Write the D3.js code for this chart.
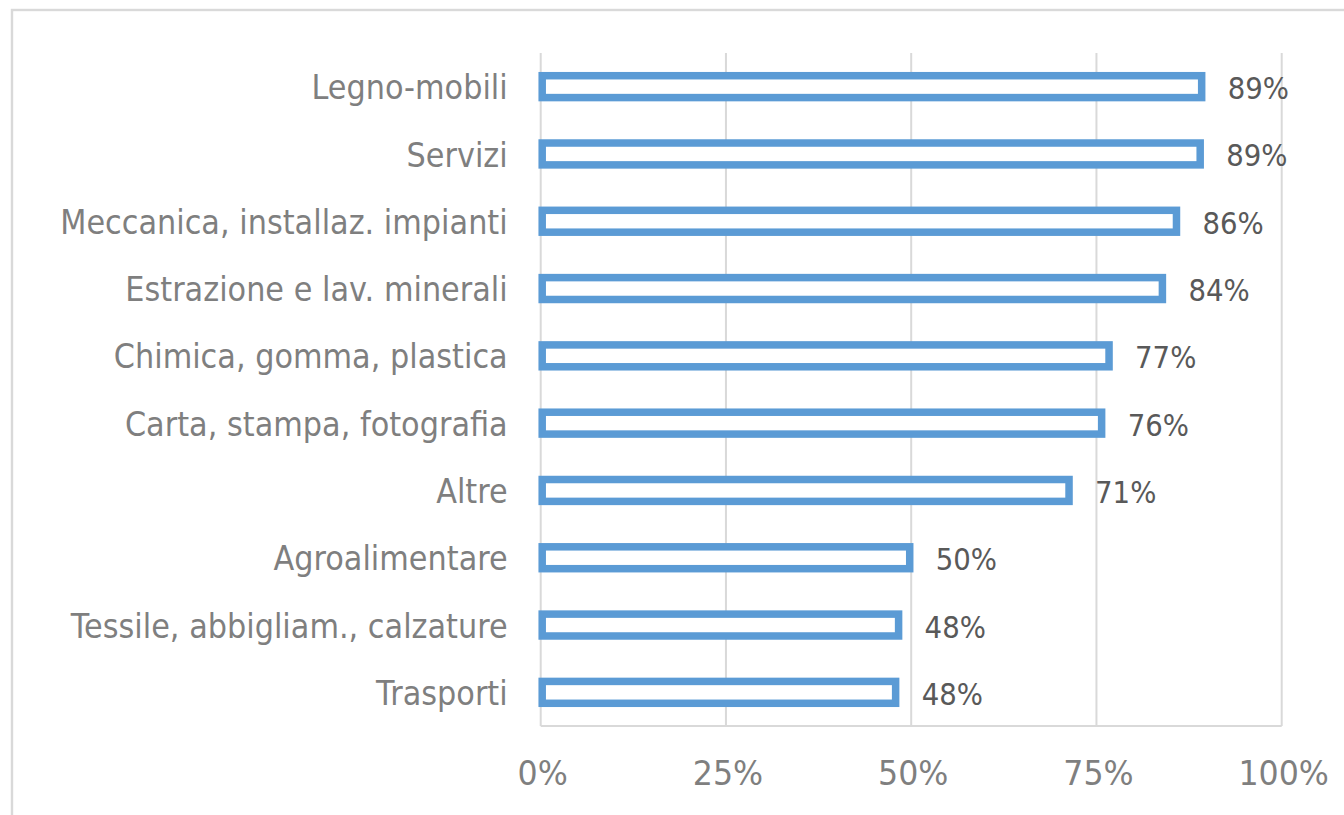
<!DOCTYPE html>
<html>
<meta charset="utf-8">
<style>
body {
  margin: 0;
  background: #fff;
}
text {
  font-family: "DejaVu Sans", Verdana, sans-serif;
}
.grid line {
  stroke: #d9d9d9;
  stroke-width: 2;
}
.cat text {
  fill: #7f7f7f;
  font-size: 33px;
}
.tick-label {
  fill: #7f7f7f;
  font-size: 33px;
}
.value {
  fill: #595959;
  font-size: 30px;
}
</style>
<body>
<script src="https://d3js.org/d3.v7.min.js"></script>
<script>
// data, top bar first
var categories = ["Legno-mobili", "Servizi", "Meccanica, installaz. impianti",
  "Estrazione e lav. minerali", "Chimica, gomma, plastica", "Carta, stampa, fotografia",
  "Altre", "Agroalimentare", "Tessile, abbigliam., calzature", "Trasporti"];
var values = [0.892, 0.890, 0.858, 0.839, 0.767, 0.757, 0.713, 0.498, 0.483, 0.479];
var tickValues = [0, 0.25, 0.5, 0.75, 1];

var W = 1344, H = 815;
var plot = {left: 540.7, right: 1281.7, top: 53, bottom: 726};
var squeeze = 0.92; // Tahoma-ish narrower text

var svg = d3.select("body").append("svg")
    .attr("width", W)
    .attr("height", H);

// chart area border (runs off the picture to the right and bottom)
svg.append("rect")
    .attr("x", 12)
    .attr("y", 10)
    .attr("width", W + 20)
    .attr("height", H + 20)
    .style("fill", "none")
    .style("stroke", "#d9d9d9")
    .style("stroke-width", 2.4);

var x = d3.scaleLinear().domain([0, 1]).range([plot.left, plot.right]);
var y = d3.scaleBand().domain(categories).range([plot.top, plot.bottom])
    .paddingInner(0.675).paddingOuter(0.3375);

// vertical gridlines
svg.append("g")
    .attr("class", "grid")
  .selectAll("line")
    .data(tickValues)
  .enter().append("line")
    .attr("x1", x).attr("x2", x)
    .attr("y1", plot.top).attr("y2", plot.bottom);

// baseline
svg.append("line")
    .attr("x1", plot.left).attr("x2", plot.right)
    .attr("y1", plot.bottom).attr("y2", plot.bottom)
    .style("stroke", "#d9d9d9")
    .style("stroke-width", 2);

// x tick labels
svg.selectAll(".tick-label")
    .data(tickValues)
  .enter().append("text")
    .attr("class", "tick-label")
    .attr("transform", function(d) { return "translate(" + (x(d) + 2) + "," + 773 + ") scale(0.96,1)"; })
    .attr("dy", ".35em")
    .style("text-anchor", "middle")
    .text(d3.format(".0%"));

// category labels
svg.append("g")
    .attr("class", "cat")
  .selectAll("text")
    .data(categories)
  .enter().append("text")
    .attr("transform", function(d) { return "translate(" + (plot.left - 33) + "," + (y(d) + y.bandwidth() / 2 + 1) + ") scale(" + squeeze + ",1)"; })
    .attr("dy", ".35em")
    .style("text-anchor", "end")
    .text(function(d) { return d; });

// outlined bars
svg.selectAll(".bar")
    .data(categories)
  .enter().append("rect")
    .attr("class", "bar")
    .attr("x", x(0) + 1.5)
    .attr("y", function(d) { return y(d); })
    .attr("width", function(d, i) { return x(values[i]) - x(0) - 1.5; })
    .attr("height", y.bandwidth())
    .style("fill", "#fff")
    .style("stroke", "#5b9bd5")
    .style("stroke-width", 7.5);

// value labels
svg.selectAll(".value")
    .data(categories)
  .enter().append("text")
    .attr("class", "value")
    .attr("transform", function(d, i) { return "translate(" + (x(values[i]) + 26) + "," + (y(d) + y.bandwidth() / 2 + 2) + ") scale(" + squeeze + ",1)"; })
    .attr("dy", ".35em")
    .text(function(d, i) { return Math.round(values[i] * 100) + "%"; });
</script>
</body>
</html>
